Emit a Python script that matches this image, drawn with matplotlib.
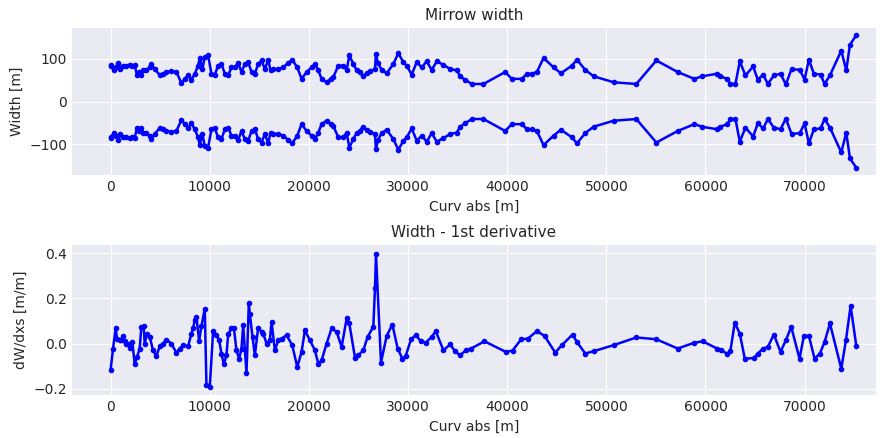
import matplotlib
matplotlib.use("Agg")
import matplotlib.pyplot as plt
import numpy as np

plt.style.use("seaborn-v0_8-darkgrid")
plt.rcParams["font.family"] = ["DejaVu Sans"]

# Curvilinear abscissa [m] and half width [m]
curv_abs = [0, 68, 303, 573, 775, 977, 1246, 1583, 1920, 2189, 2425, 2660, 2862, 3098, 3266,
            3603, 3940, 4108, 4445, 4950, 5287, 5623, 6128, 6634, 7139, 7475, 7812, 8149, 8485,
            8822, 8990, 9260, 9495, 9832, 10169, 10506, 10842, 11179, 11516, 11853, 12189, 12526,
            12863, 13200, 13536, 13873, 14210, 14546, 14883, 15220, 15556, 15893, 16129, 16398,
            16903, 17408, 17913, 18317, 18822, 19260, 19765, 20270, 20607, 20943, 21280, 21785,
            22189, 22458, 22963, 23469, 23805, 24074, 24478, 24815, 25149, 25419, 25823, 26159,
            26664, 26765, 26934, 27338, 27843, 28516, 29021, 29526, 29863, 30368, 30873, 31378,
            31883, 32388, 32894, 33567, 34240, 34914, 35250, 35755, 36429, 37607, 39796, 40469,
            41479, 41984, 42490, 42995, 43668, 44678, 45419, 46530, 47035, 47877, 48719, 50739,
            53025, 55045, 57200, 58883, 59658, 61174, 61510, 62184, 62520, 63025, 63463, 64035,
            64810, 65281, 65820, 66291, 66897, 67571, 68109, 68681, 69523, 69995, 70432, 70937,
            71611, 72015, 72553, 73698, 74203, 74573, 75213]
half_width = [86, 82, 74, 80, 91, 76, 84, 84, 86, 84, 86, 61, 69, 61, 74,
              74, 80, 88, 76, 62, 65, 69, 71, 69, 43, 53, 62, 51, 65,
              84, 102, 76, 105, 108, 65, 63, 84, 88, 65, 61, 80, 80,
              90, 69, 88, 92, 69, 65, 88, 96, 76, 98, 73, 76,
              76, 80, 90, 98, 80, 53, 69, 80, 88, 73, 53, 45,
              53, 57, 84, 84, 73, 108, 88, 73, 69, 59, 66, 71,
              76, 112, 91, 74, 66, 88, 113, 92, 84, 63, 92, 80,
              94, 74, 94, 86, 76, 73, 59, 51, 41, 41, 69, 53,
              53, 65, 65, 69, 102, 80, 66, 84, 98, 74, 59, 45,
              41, 96, 69, 53, 59, 65, 59, 53, 41, 41, 94, 61,
              82, 51, 63, 41, 61, 65, 40, 76, 74, 51, 98, 65,
              63, 41, 61, 119, 73, 133, 155]

# Derivative series
deriv_abs = [0, 236, 506, 640, 909, 1078, 1246, 1415, 1583, 1751, 1987, 2189, 2425, 2660, 2930,
             3098, 3334, 3435, 3671, 3940, 4276, 4613, 4950, 5287, 5623, 6128, 6634, 6971, 7307,
             7812, 8149, 8317, 8485, 8654, 8923, 9159, 9495, 9664, 10001, 10336, 10674, 10943,
             11179, 11415, 11683, 11852, 12189, 12425, 12694, 12963, 13200, 13368, 13704, 13940,
             14041, 14310, 14546, 14883, 15220, 15388, 15725, 16061, 16230, 16566, 16903, 17240,
             17745, 18317, 18822, 19260, 19596, 20101, 20607, 20943, 21280, 21785, 22290, 22795,
             23300, 23805, 24074, 24647, 24984, 25487, 25924, 26497, 26665, 26766, 27271, 27843,
             28416, 28955, 29426, 29763, 30301, 30773, 31311, 31783, 32389, 32793, 33567, 34240,
             34745, 35251, 35823, 36362, 37709, 39864, 40537, 41412, 42085, 42995, 43769, 44846,
             45517, 46595, 47033, 47874, 48716, 50736, 53025, 55046, 57201, 58817, 59726, 61174,
             61578, 62184, 62521, 62958, 63463, 63968, 64878, 65282, 65821, 66292, 66898, 67572,
             68110, 68649, 69490, 69928, 70433, 71006, 71544, 72016, 72555, 73699, 74171, 74642,
             75214]
deriv_val = [-0.115, -0.024, 0.067, 0.022, 0.018, 0.015, 0.034, 0.010, 0.0, -0.003, -0.018, 0.007,
             -0.089, -0.059, -0.022, 0.074, 0.077, 0.0, 0.044, 0.030, -0.030, -0.056, -0.012, 0.0,
             0.018, 0.0, -0.041, -0.022, -0.007, -0.012, 0.044, 0.067, 0.104, 0.118, 0.012, 0.077,
             0.155, -0.185, -0.192, 0.056, 0.037, 0.015, -0.044, -0.092, -0.052, 0.041, 0.067, 0.071,
             -0.030, -0.067, -0.022, 0.081, -0.130, 0.178, 0.130, 0.030, -0.052, 0.071, 0.052, 0.044,
             0.0, 0.015, 0.096, -0.030, 0.015, 0.022, 0.037, -0.007, -0.104, -0.037, 0.059, 0.015,
             -0.030, -0.089, -0.074, 0.0, 0.067, 0.052, -0.015, 0.111, 0.089, -0.062, -0.052,
             -0.030, 0.030, 0.074, 0.247, 0.395, -0.084, 0.034, 0.084, -0.022, -0.067, -0.055,
             0.019, 0.037, 0.010, 0.004, 0.030, 0.055, -0.030, -0.004, -0.034, -0.052, -0.030,
             -0.022, 0.010, -0.037, -0.031, 0.019, 0.022, 0.055, 0.034, -0.040, -0.007, 0.040,
             0.007, -0.044, -0.034, -0.007, 0.027, 0.019, -0.022, 0.003, 0.010, -0.022, -0.027,
             -0.046, -0.031, 0.093, 0.044, -0.067, -0.064, -0.044, -0.022, -0.015, 0.040, -0.037,
             0.015, 0.074, -0.067, 0.034, 0.034, -0.067, -0.044, 0.007, 0.089, -0.111, 0.015,
             0.167, -0.010]

fig = plt.figure(figsize=(8.81, 4.38), dpi=100)
ax1 = fig.add_axes([0.0817, 0.6005, 0.9126, 0.3355])
ax2 = fig.add_axes([0.0817, 0.098, 0.9126, 0.343])

hw = np.array(half_width)
ax1.plot(curv_abs, hw, "b.-", lw=1.8, ms=6)
ax1.plot(curv_abs, -hw, "b.-", lw=1.8, ms=6)
ax1.set_title("Mirrow width", fontsize=11)
ax1.set_xlabel("Curv abs [m]")
ax1.set_ylabel("Width [m]")
ax1.set_xlim(-3900, 77200)
ax1.set_ylim(-172, 172)

ax2.plot(deriv_abs, deriv_val, "b.-", lw=1.8, ms=6)
ax2.set_title("Width - 1st derivative", fontsize=11)
ax2.set_xlabel("Curv abs [m]")
ax2.set_ylabel("dW/dxs [m/m]")
ax2.set_xlim(-3900, 77200)
ax2.set_ylim(-0.228, 0.437)

fig.savefig("out.png", dpi=100)
